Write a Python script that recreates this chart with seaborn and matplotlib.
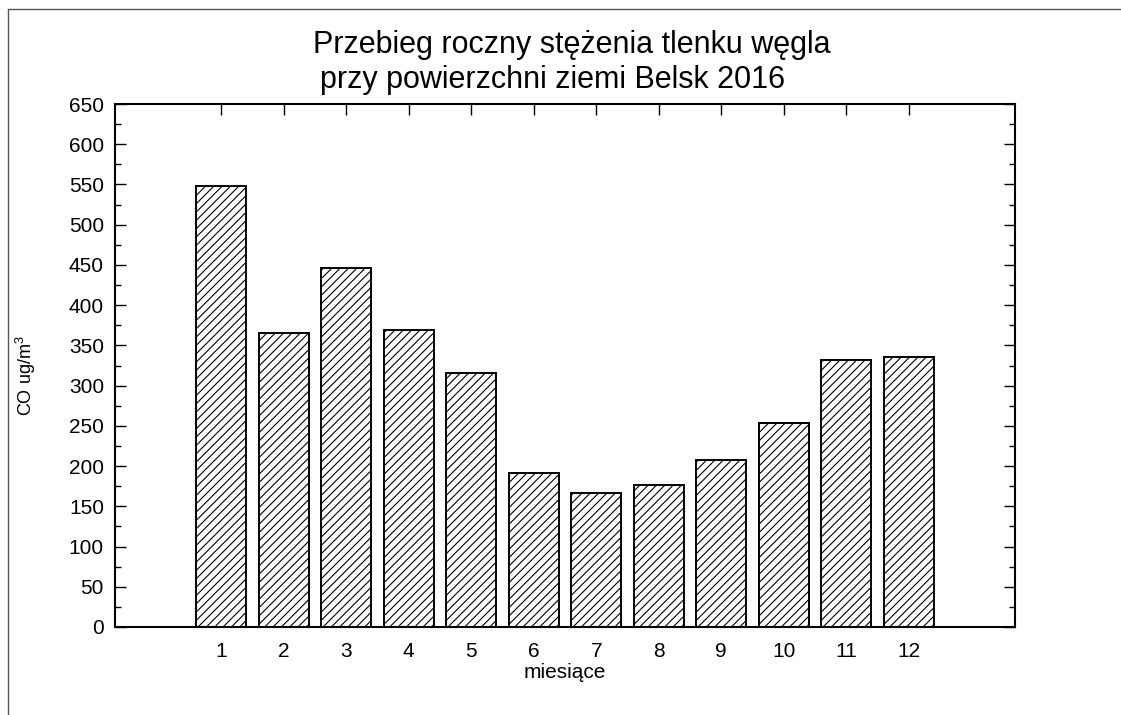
import matplotlib.pyplot as plt
from matplotlib.lines import Line2D
from matplotlib.ticker import MultipleLocator
import seaborn as sns

# Monthly CO concentration, Belsk 2016
months = [1, 2, 3, 4, 5, 6, 7, 8, 9, 10, 11, 12]
co_values = [548, 366, 446, 369, 316, 191, 167, 177, 208, 253, 332, 335]

title_line1 = 'Przebieg roczny stężenia tlenku węgla'
title_line2 = 'przy powierzchni ziemi Belsk 2016'

sns.set_style('ticks')
plt.rcParams['font.family'] = ['Liberation Sans', 'DejaVu Sans']
plt.rcParams['mathtext.fontset'] = 'custom'
plt.rcParams['mathtext.rm'] = 'Liberation Sans'
plt.rcParams['hatch.linewidth'] = 0.8
plt.rcParams['text.color'] = 'black'
plt.rcParams['axes.labelcolor'] = 'black'

fig = plt.figure(figsize=(11.21, 7.15), dpi=100)
ax = fig.add_axes([0.1026, 0.1231, 0.8028, 0.7314])

sns.barplot(x=months, y=co_values, native_scale=True, width=0.8,
            color='white', saturation=1, edgecolor='black', linewidth=1.4,
            hatch='////', ax=ax)

ax.set_xlim(-0.7, 13.7)
ax.set_ylim(0, 650)
ax.set_xticks(months)
ax.set_xticklabels([str(m) for m in months])
ax.yaxis.set_major_locator(MultipleLocator(50))
ax.yaxis.set_minor_locator(MultipleLocator(25))

ax.tick_params(axis='both', which='both', direction='in', top=True, right=True,
               colors='black', labelsize=15)
ax.tick_params(axis='both', which='major', length=8, width=1)
ax.tick_params(axis='y', which='minor', length=4, width=1)
ax.tick_params(axis='x', which='major', pad=11)
ax.tick_params(axis='y', which='major', pad=8)

for sp in ax.spines.values():
    sp.set_linewidth(1.5)
    sp.set_color('black')

ax.set_xlabel('miesiące', fontsize=15, labelpad=1)
ax.set_ylabel('CO ug/m$^3$', fontsize=13)
ax.yaxis.set_label_coords(-0.086, 0.48)

fig.text(0.510, 0.937, title_line1, fontsize=22, ha='center', va='center')
fig.text(0.493, 0.888, title_line2, fontsize=22, ha='center', va='center')

# thin grey frame at top and left of the image
fig.add_artist(Line2D([8 / 1121, 1], [1 - 9 / 715, 1 - 9 / 715],
                      transform=fig.transFigure, color='#555555', lw=1))
fig.add_artist(Line2D([8 / 1121, 8 / 1121], [0, 1 - 9 / 715],
                      transform=fig.transFigure, color='#555555', lw=1))

fig.savefig('out.png', dpi=100)
